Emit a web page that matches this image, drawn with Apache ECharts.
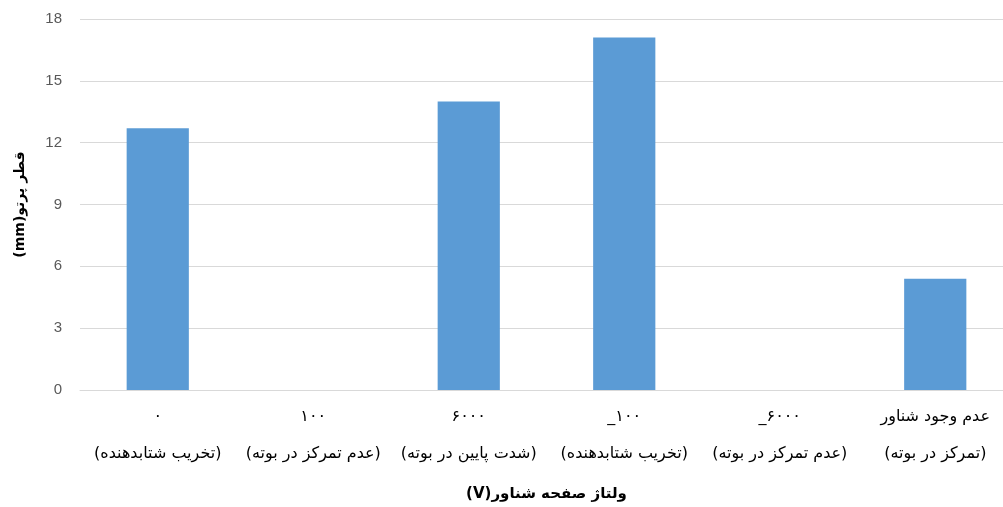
<!DOCTYPE html>
<html>
<head>
<meta charset="utf-8">
<script src="https://cdn.jsdelivr.net/npm/echarts@6/dist/echarts.min.js"></script>
<style>
html,body{margin:0;padding:0;background:#fff;}
#chart{width:1003px;height:507px;}
</style>
</head>
<body>
<div id="chart"></div>
<script>
var RLE = '\u202B', PDF = '\u202C';
// Category label lines
var voltageLine = ['۰', '۱۰۰', '۶۰۰۰', '_۱۰۰', '_۶۰۰۰', 'عدم وجود شناور'];
var stateLine = [
  '(تخریب شتابدهنده)',
  '(عدم تمرکز در بوته)',
  '(شدت پایین در بوته)',
  '(تخریب شتابدهنده)',
  '(عدم تمرکز در بوته)',
  '(تمرکز در بوته)'
];
var categories = voltageLine.slice();
var beamDiameter = [12.7, 0, 14.0, 17.1, 0, 5.4];
var yTicks = { min: 0, max: 18, interval: 3 };
var xTitle = 'ولتاژ صفحه شناور(V)';
var yTitle = 'قطر پرتو(mm)';

function rtl(s) { return RLE + s + PDF; }

var FF = 'DejaVu Sans, Noto Sans, sans-serif';
var chart = echarts.init(document.getElementById('chart'), null, { renderer: 'canvas' });
chart.setOption({
  animation: false,
  backgroundColor: '#ffffff',
  grid: { left: 80, width: 933, top: 19, bottom: 117, containLabel: false, outerBoundsMode: 'none' },
  xAxis: {
    type: 'category',
    data: categories,
    axisLine: { show: true, lineStyle: { color: '#d9d9d9', width: 1 } },
    axisTick: { show: false },
    axisLabel: {
      interval: 0,
      margin: 8,
      color: '#000000',
      fontSize: 16,
      lineHeight: 37,
      fontFamily: FF,
      formatter: function (value, idx) {
        return voltageLine[idx] + '\n' + rtl(stateLine[idx]);
      }
    },
    name: rtl(xTitle),
    nameLocation: 'middle',
    nameGap: 97,
    nameTextStyle: { color: '#000000', fontSize: 15, fontWeight: 'bold', fontFamily: FF }
  },
  yAxis: {
    type: 'value',
    min: yTicks.min,
    max: yTicks.max,
    interval: yTicks.interval,
    axisLine: { show: false },
    axisTick: { show: false },
    splitLine: { show: true, lineStyle: { color: '#d9d9d9', width: 1 } },
    axisLabel: { color: '#595959', fontSize: 15, margin: 18, fontFamily: 'Liberation Sans, Noto Sans, sans-serif' },
    name: rtl(yTitle),
    nameLocation: 'middle',
    nameGap: 53,
    nameRotate: 90,
    nameTextStyle: { color: '#000000', fontSize: 14, fontWeight: 'bold', fontFamily: FF }
  },
  series: [{
    type: 'bar',
    data: beamDiameter,
    barWidth: '40%',
    itemStyle: { color: '#5b9bd5' }
  }]
});
</script>
</body>
</html>
